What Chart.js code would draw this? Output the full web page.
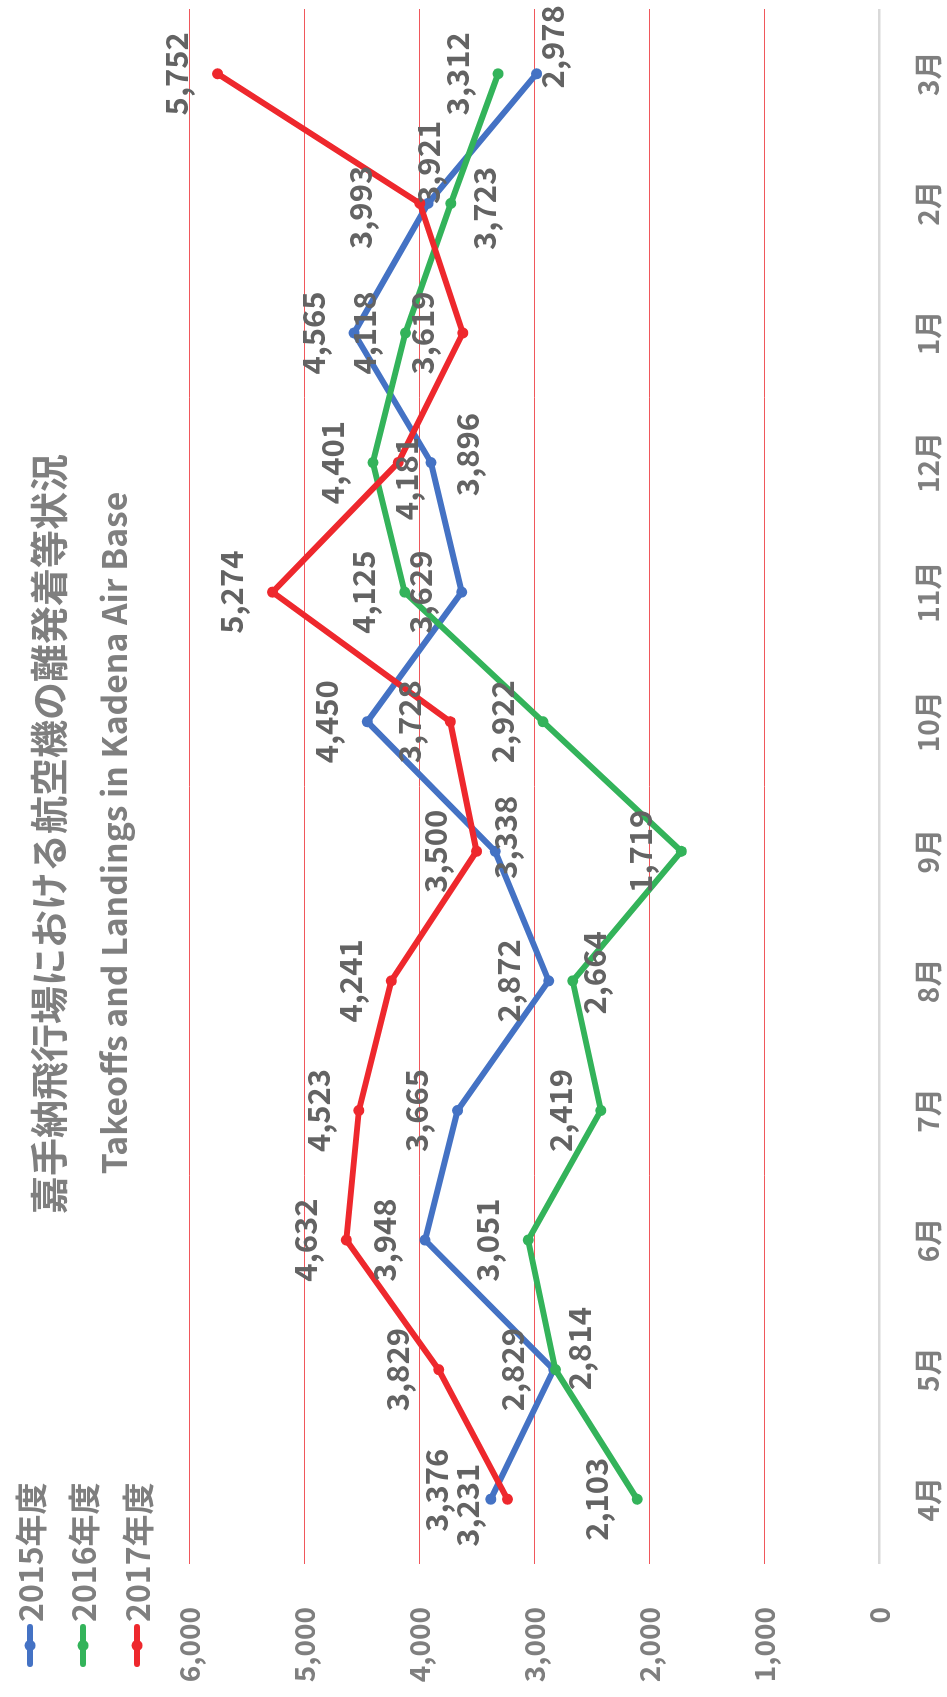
<!DOCTYPE html>
<html><head><meta charset="utf-8">
<script src="https://cdn.jsdelivr.net/npm/chart.js@4/dist/chart.umd.min.js"></script>
<style>
html,body{margin:0;padding:0;background:#fff;overflow:hidden;width:947px;height:1697px;}
#wrap{position:absolute;left:0;top:0;width:1697px;height:947px;transform-origin:0 0;transform:translate(0,1697px) rotate(-90deg);}
canvas{display:block;}
</style></head><body>
<div id="wrap"><canvas id="c" width="1697" height="947" style="width:1697px;height:947px"></canvas></div>
<script>
const months = ['4月','5月','6月','7月','8月','9月','10月','11月','12月','1月','2月','3月'];
const seriesNames = ['2015年度','2016年度','2017年度'];
const fy2015 = [3376, 2829, 3948, 3665, 2872, 3338, 4450, 3629, 3896, 4565, 3921, 2978];
const fy2016 = [2103, 2814, 3051, 2419, 2664, 1719, 2922, 4125, 4401, 4118, 3723, 3312];
const fy2017 = [3231, 3829, 4632, 4523, 4241, 3500, 3728, 5274, 4181, 3619, 3993, 5752];
const yTickValues = [0, 1000, 2000, 3000, 4000, 5000, 6000];
const chartTitle = '嘉手納飛行場における航空機の離発着等状況';
const chartSubtitle = 'Takeoffs and Landings in Kadena Air Base';

const FONT = "'Noto Sans CJK JP','Noto Sans',sans-serif";
const colors = ['#4472C4', '#33B35A', '#EE282D'];
// label placement styles (offset from point, px) – default is above
const labelOffsets = [
  {0:[9,-55], 5:[14,10], 8:[8,36], 10:[41,0], 11:[27,16]},
  {1:[21,24], 4:[8,22], 10:[-5,33]},
  {0:[-6,-40], 8:[-16,8], 10:[-4,-60]}
];

const labelPlugin = {
  id: 'pointLabels',
  afterDatasetsDraw(chart) {
    const ctx = chart.ctx;
    ctx.save();
    ctx.font = 'bold 31px ' + FONT;
    ctx.fillStyle = '#636363';
    ctx.textAlign = 'center';
    ctx.textBaseline = 'middle';
    chart.data.datasets.forEach((ds, di) => {
      const meta = chart.getDatasetMeta(di);
      meta.data.forEach((pt, i) => {
        const off = labelOffsets[di][i] || [0, -41];
        ctx.fillText(ds.data[i].toLocaleString('en-US'), pt.x + off[0], pt.y + off[1]);
      });
    });
    ctx.restore();
  }
};

const headerPlugin = {
  id: 'header',
  afterDraw(chart) {
    const ctx = chart.ctx;
    ctx.save();
    ctx.fillStyle = '#7F7F7F';
    ctx.textAlign = 'center';
    ctx.textBaseline = 'middle';
    ctx.font = 'bold 38px ' + FONT;
    ctx.fillText(chartTitle, 863, 49);
    ctx.font = 'bold 30px ' + FONT;
    const w = ctx.measureText(chartSubtitle).width;
    const size = 30 * 682 / w;
    ctx.font = 'bold ' + size.toFixed(1) + 'px ' + FONT;
    ctx.fillText(chartSubtitle, 864, 114);
    // legend
    const rows = [30, 83, 137];
    seriesNames.forEach((name, i) => {
      const y = rows[i];
      ctx.strokeStyle = colors[i];
      ctx.lineWidth = 6;
      ctx.lineCap = 'round';
      ctx.beginPath(); ctx.moveTo(33, y); ctx.lineTo(70, y); ctx.stroke();
      ctx.fillStyle = colors[i];
      ctx.beginPath(); ctx.arc(51.5, y, 5.5, 0, Math.PI * 2); ctx.fill();
      ctx.fillStyle = '#7F7F7F';
      ctx.textAlign = 'left';
      ctx.font = 'bold 32px ' + FONT;
      ctx.fillText(name, 75, y + 1);
    });
    ctx.restore();
  }
};

const series = [fy2015, fy2016, fy2017];
new Chart(document.getElementById('c'), {
  type: 'line',
  data: {
    labels: months,
    datasets: series.map((d, i) => ({
      label: seriesNames[i],
      data: d,
      borderColor: colors[i],
      backgroundColor: colors[i],
      borderWidth: 6,
      pointRadius: 5.5,
      pointBorderWidth: 0,
      pointBackgroundColor: colors[i],
      tension: 0,
      fill: false,
      order: 2 - i
    }))
  },
  options: {
    responsive: false,
    animation: false,
    devicePixelRatio: 1,
    layout: { padding: { top: 189, left: 0, right: 9, bottom: 0 } },
    plugins: { legend: { display: false }, title: { display: false }, tooltip: { enabled: false } },
    scales: {
      x: {
        offset: true,
        grid: { display: false, drawTicks: false },
        border: { display: false },
        ticks: { color: '#7F7F7F', font: { family: FONT, size: 28, weight: 'bold' }, padding: 33, maxRotation: 0, autoSkip: false },
        afterFit: s => { s.height = 68; }
      },
      y: {
        min: 0, max: 6000,
        afterBuildTicks: s => { s.ticks = yTickValues.map(v => ({ value: v })); },
        grid: {
          drawTicks: false,
          color: c => c.tick && c.tick.value === 0 ? '#D9D9D9' : '#F0575B',
          lineWidth: c => c.tick && c.tick.value === 0 ? 2.5 : 1
        },
        border: { display: false },
        ticks: {
          color: '#7F7F7F', font: { family: FONT, size: 28, weight: 'bold' }, padding: 43,
          callback: v => Number(v).toLocaleString('en-US')
        },
        afterFit: s => { s.width = 133; }
      }
    }
  },
  plugins: [labelPlugin, headerPlugin]
});
</script>
</body></html>
